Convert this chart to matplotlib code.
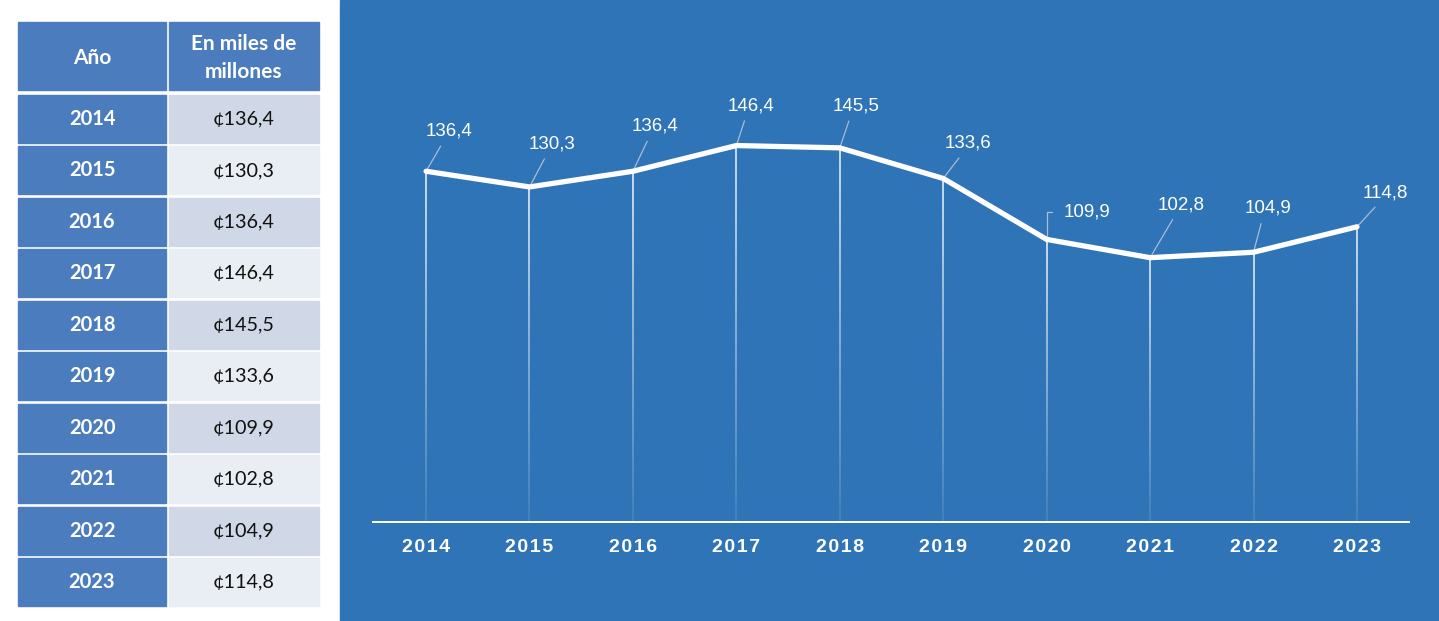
import numpy as np
import matplotlib
matplotlib.use("Agg")
import matplotlib.pyplot as plt
from matplotlib.patches import Rectangle
from matplotlib.collections import LineCollection

# datos
anios = [2014, 2015, 2016, 2017, 2018, 2019, 2020, 2021, 2022, 2023]
valores = [136.4, 130.3, 136.4, 146.4, 145.5, 133.6, 109.9, 102.8, 104.9, 114.8]
encabezados = ["Año", "En miles de\nmillones"]

# desplazamiento de etiquetas (pixeles)
desplaz = [(23, 40), (23, 43), (22, 45), (15, 40), (16, 42),
           (25, 35), (40, 27), (31, 53), (14, 44), (28, 34)]

W, H = 1439, 621
azul_panel = "#2E74B6"
azul_celda = "#4B7DBE"
gris_1 = "#D0D8E7"
gris_2 = "#E9EDF4"

def fmt(v):
    return f"{v:.1f}".replace(".", ",")

fig = plt.figure(figsize=(W / 100, H / 100), dpi=100)
fondo = fig.add_axes([0, 0, 1, 1])
fondo.set_xlim(0, W)
fondo.set_ylim(H, 0)
fondo.axis("off")

# panel azul
fondo.add_patch(Rectangle((340, 0), W - 340, H, color=azul_panel, zorder=0))

# tabla
x1, w1 = 18, 148
x2, w2 = 169, 150
fondo.add_patch(Rectangle((x1, 22), w1, 68, color=azul_celda))
fondo.add_patch(Rectangle((x2, 22), w2, 68, color=azul_celda))
fondo.text(x1 + w1 / 2, 58, encabezados[0], color="white", fontsize=15,
           fontweight="bold", family="Lato", ha="center", va="center")
fondo.text(x2 + w2 / 2, 58, encabezados[1], color="white", fontsize=15,
           fontweight="bold", family="Lato", ha="center", va="center",
           linespacing=1.55)

for i, (a, v) in enumerate(zip(anios, valores)):
    y0 = 95 + i * 51.45
    h = 48
    fondo.add_patch(Rectangle((x1, y0), w1, h, color=azul_celda))
    fondo.add_patch(Rectangle((x2, y0), w2, h, color=gris_1 if i % 2 == 0 else gris_2))
    fondo.text(x1 + w1 / 2, y0 + h / 2, str(a), color="white", fontsize=14.5,
               fontweight="bold", family="Lato", ha="center", va="center")
    fondo.text(x2 + w2 / 2, y0 + h / 2, "¢" + fmt(v), color="#111111",
               fontsize=14.2, family="Lato", ha="center", va="center")

# grafico
ax = fig.add_axes([373 / W, 1 - 522 / H, (1409 - 373) / W, 522 / H])
ax.patch.set_alpha(0)
x = np.arange(len(anios))
ax.set_xlim(-0.513, len(anios) - 0.497)
ax.set_ylim(0, 203)

# lineas verticales con degradado
segs, cols = [], []
n = 40
for xi, v in zip(x, valores):
    ys = np.linspace(v, 0, n + 1)
    for k in range(n):
        segs.append([(xi, ys[k]), (xi, ys[k + 1])])
        cols.append((1, 1, 1, 0.95 - 0.85 * k / n))
ax.add_collection(LineCollection(segs, colors=cols, linewidths=1.1, zorder=2))

ax.plot(x, valores, color="white", lw=3.8, solid_joinstyle="round",
        solid_capstyle="round", zorder=4)

for xi, v, (dx, dy) in zip(x, valores, desplaz):
    if dx > 35:
        ax.annotate(fmt(v), (xi, v), xytext=(dx, dy), textcoords="offset pixels",
                    color="white", fontsize=13.5, family="Liberation Sans",
                    ha="center", va="center",
                    arrowprops=dict(arrowstyle="-", color="#A9BCDA", lw=0.9,
                                    relpos=(0, 0.5), shrinkA=6, shrinkB=0,
                                    connectionstyle="angle,angleA=180,angleB=90,rad=0"))
    else:
        ax.annotate(fmt(v), (xi, v), xytext=(dx, dy), textcoords="offset pixels",
                    color="white", fontsize=13.5, family="Liberation Sans",
                    ha="center", va="center",
                    arrowprops=dict(arrowstyle="-", color="#A9BCDA", lw=0.9,
                                    relpos=(0.4, 0), shrinkA=3, shrinkB=0))

for s in ["top", "right", "left"]:
    ax.spines[s].set_visible(False)
ax.spines["bottom"].set_color("white")
ax.spines["bottom"].set_linewidth(1.4)
ax.set_yticks([])
ax.set_xticks(x)
ax.set_xticklabels(["\u200a".join(str(a)) for a in anios], color="white",
                   fontsize=14, fontweight="bold",
                   family=["Liberation Sans", "DejaVu Sans"])
ax.tick_params(axis="x", length=0, pad=12)

fig.savefig("out.png", dpi=100)
